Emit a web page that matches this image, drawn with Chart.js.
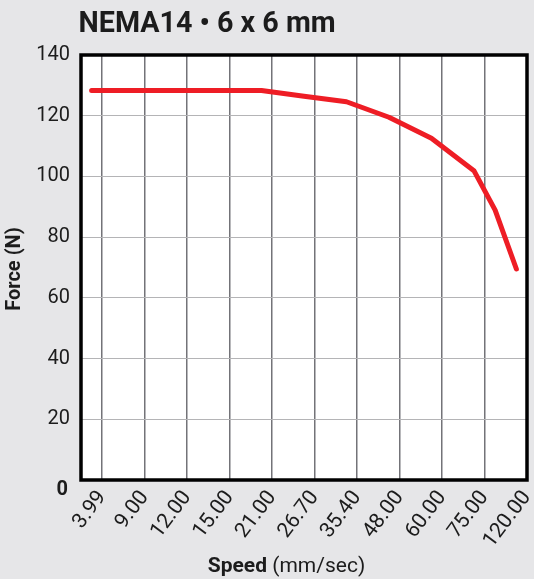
<!DOCTYPE html>
<html><head><meta charset="utf-8">
<script src="https://cdn.jsdelivr.net/npm/chart.js@4"></script>
<style>html,body{margin:0;padding:0;background:#e6e6e8;overflow:hidden}#wrap{width:534px;height:579px;position:relative}</style>
</head><body><div id="wrap"><canvas id="c" width="534" height="579"></canvas></div>
<script>
const chartTitle = 'NEMA14 \u2022 6 x 6 mm';
const yAxisTitle = 'Force (N)';
const xAxisTitleBold = 'Speed';
const xAxisTitleRest = ' (mm/sec)';
const speedLabels = ['3.99','9.00','12.00','15.00','21.00','26.70','35.40','48.00','60.00','75.00','120.00'];
const pointIndex = [0,1,2,3,4,5,6,7,8,9,9.5,10];
const forceValues = [128.3,128.3,128.3,128.3,128.3,126.4,124.6,119.5,112.6,101.9,88.9,69.5];
const yTicks = [0,20,40,60,80,100,120,140];

const FONT = 'Roboto';
const TEXT = '#1c1c1c';

const decor = {
  id: 'decor',
  beforeDraw(chart) {
    const {ctx, chartArea: a} = chart;
    ctx.save();
    ctx.fillStyle = '#ffffff';
    ctx.fillRect(a.left, a.top, a.right - a.left, a.bottom - a.top);
    ctx.restore();
  },
  afterDraw(chart) {
    const {ctx, chartArea: a} = chart;
    ctx.save();
    ctx.strokeStyle = '#000';
    ctx.lineWidth = 3.5;
    ctx.strokeRect(a.left, a.top, a.right - a.left, a.bottom - a.top);
    ctx.fillStyle = TEXT;
    ctx.font = 'bold 28.7px ' + FONT;
    ctx.textAlign = 'left';
    ctx.textBaseline = 'alphabetic';
    ctx.fillText(chartTitle, 78.5, 32);
    // zero label
    ctx.font = 'bold 20px ' + FONT;
    ctx.textAlign = 'right';
    ctx.textBaseline = 'middle';
    ctx.fillText(String(yTicks[0]), 68, 490);
    // y title
    ctx.save();
    ctx.translate(15, 269);
    ctx.rotate(-Math.PI / 2);
    ctx.textAlign = 'center';
    ctx.font = 'bold 20px ' + FONT;
    ctx.fillText(yAxisTitle, 0, 0);
    ctx.restore();
    // x title
    ctx.textBaseline = 'alphabetic';
    ctx.textAlign = 'left';
    ctx.font = 'bold 21px ' + FONT;
    const w1 = ctx.measureText(xAxisTitleBold).width;
    ctx.font = '21px ' + FONT;
    const w2 = ctx.measureText(xAxisTitleRest).width;
    const sx = 286.5 - (w1 + w2) / 2;
    ctx.font = 'bold 21px ' + FONT;
    ctx.fillText(xAxisTitleBold, sx, 572);
    ctx.font = '21px ' + FONT;
    ctx.fillText(xAxisTitleRest, sx + w1, 572);
    ctx.restore();
  }
};

new Chart(document.getElementById('c'), {
  type: 'line',
  data: {
    datasets: [{
      data: pointIndex.map((p, i) => ({x: p, y: forceValues[i]})),
      xAxisID: 'x2',
      yAxisID: 'y',
      borderColor: '#ee1d25',
      borderWidth: 5,
      pointRadius: 0,
      borderCapStyle: 'round',
      borderJoinStyle: 'round',
      tension: 0,
      fill: false
    }]
  },
  plugins: [decor],
  options: {
    responsive: false,
    animation: false,
    devicePixelRatio: 1,
    layout: {padding: {top: 55, right: 7, left: 0, bottom: 0}},
    plugins: {legend: {display: false}, tooltip: {enabled: false}, title: {display: false}},
    scales: {
      x: {
        type: 'linear', position: 'bottom', min: -0.5, max: speedLabels.length - 1,
        afterBuildTicks: s => { s.ticks = speedLabels.map((_, i) => ({value: i})); },
        afterFit: s => { s.height = 99; s.paddingLeft = 0; s.paddingRight = 0; },
        ticks: {
          callback: v => speedLabels[v] ?? '',
          autoSkip: false, minRotation: 53, maxRotation: 53,
          font: {family: FONT, size: 21}, color: TEXT, padding: 6
        },
        grid: {color: '#737378', lineWidth: 1.5, drawTicks: false},
        border: {display: false}
      },
      x2: {
        type: 'linear', display: false, min: -0.25, max: speedLabels.length - 0.75
      },
      y: {
        min: 0, max: 140,
        afterBuildTicks: s => { s.ticks = yTicks.map(v => ({value: v})); },
        afterFit: s => { s.width = 81; s.paddingTop = 0; s.paddingBottom = 0; },
        ticks: {
          callback: v => v === 0 ? '' : String(v),
          font: {family: FONT, size: 20}, color: TEXT, padding: 11
        },
        grid: {color: '#b4b4b6', lineWidth: 1, drawTicks: false},
        border: {display: false}
      }
    }
  }
});
</script>
</body></html>
